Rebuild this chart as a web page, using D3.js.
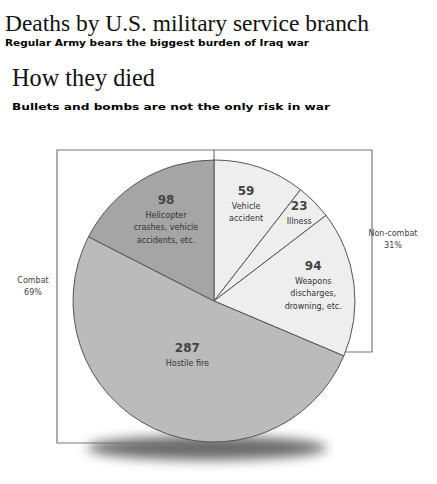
<!DOCTYPE html>
<html><head><meta charset="utf-8">
<script src="https://cdn.jsdelivr.net/npm/d3@7"></script>
<style>body{margin:0;background:#fff}svg{display:block}</style>
</head><body>
<script>
const categories = ["Vehicle accident", "Illness", "Weapons discharges, drowning, etc.", "Hostile fire", "Helicopter crashes, vehicle accidents, etc."];
const values = [59, 23, 94, 287, 98];
const labelLines = [["Vehicle", "accident"], ["Illness"], ["Weapons", "discharges,", "drowning, etc."], ["Hostile fire"], ["Helicopter", "crashes, vehicle", "accidents, etc."]];
const groups = ["Non-combat", "Combat"];
const groupPercents = ["31%", "69%"];

const W = 437, H = 484;
const svg = d3.select("body").append("svg").attr("width", W).attr("height", H);

const defs = svg.append("defs");
defs.append("filter").attr("id", "blur").attr("x", "-50%").attr("y", "-150%").attr("width", "200%").attr("height", "400%")
  .append("feGaussianBlur").attr("stdDeviation", 6);

// titles
svg.append("text").attr("x", 5).attr("y", 31).attr("font-family", "Liberation Serif, serif")
  .attr("font-size", 24).attr("textLength", 364).attr("lengthAdjust", "spacingAndGlyphs").attr("fill", "#111")
  .text("Deaths by U.S. military service branch");
svg.append("text").attr("x", 5).attr("y", 46).attr("font-family", "DejaVu Sans, sans-serif").attr("font-weight", "bold")
  .attr("font-size", 8).attr("textLength", 304).attr("lengthAdjust", "spacingAndGlyphs").attr("fill", "#000")
  .text("Regular Army bears the biggest burden of Iraq war");
svg.append("text").attr("x", 12).attr("y", 86).attr("font-family", "Liberation Serif, serif")
  .attr("font-size", 26).attr("textLength", 143).attr("lengthAdjust", "spacingAndGlyphs").attr("fill", "#111")
  .text("How they died");
svg.append("text").attr("x", 12).attr("y", 110).attr("font-family", "DejaVu Sans, sans-serif").attr("font-weight", "bold")
  .attr("font-size", 8).attr("textLength", 318).attr("lengthAdjust", "spacingAndGlyphs").attr("fill", "#000")
  .text("Bullets and bombs are not the only risk in war");

const cx = 214, cy = 301, R = 141;

// shadow
svg.append("ellipse").attr("cx", 207).attr("cy", 448).attr("rx", 120).attr("ry", 12)
  .attr("fill", "#6a6a6a").attr("filter", "url(#blur)");

// brackets
const br = svg.append("g").attr("fill", "none").attr("stroke", "#777").attr("stroke-width", 1.2);
br.append("path").attr("d", `M${cx},${cy - R} L${cx},150 L57,150 L57,443 L${cx},443`);
br.append("path").attr("d", `M${cx},150 L372,150 L372,352 L344,352`);

const pie = d3.pie().sort(null).value(d => d)(values);
const arc = d3.arc().innerRadius(0).outerRadius(R);
const fills = ["#eeeeee", "#eeeeee", "#eeeeee", "#bbbbbb", "#a5a5a5"];
const g = svg.append("g").attr("transform", `translate(${cx},${cy})`);
g.selectAll("path").data(pie).join("path").attr("d", arc)
  .attr("fill", (d, i) => fills[i]).attr("stroke", "#555").attr("stroke-width", 1);

const labelR = [99, 120, 100, 63, 92];
pie.forEach((d, i) => {
  const a = (d.startAngle + d.endAngle) / 2;
  const x = Math.sin(a) * labelR[i], y = -Math.cos(a) * labelR[i];
  const lines = labelLines[i];
  const t = g.append("text").attr("text-anchor", "middle").attr("fill", "#333")
    .attr("font-family", "DejaVu Sans, sans-serif");
  const top = y - (lines.length * 12.5) / 2;
  t.append("tspan").attr("x", x).attr("y", top).attr("font-size", 12).attr("font-weight", "bold").attr("fill", "#444").text(values[i]);
  lines.forEach((l, j) => t.append("tspan").attr("x", x).attr("y", top + 14 + j * 12.5).attr("font-size", 8).text(l));
});

// group labels
const gl = [[393, 236], [33, 283]];
groups.forEach((name, i) => {
  const t = svg.append("text").attr("text-anchor", "middle").attr("fill", "#444")
    .attr("font-family", "DejaVu Sans, sans-serif").attr("font-size", 8);
  t.append("tspan").attr("x", gl[i][0]).attr("y", gl[i][1]).text(name);
  t.append("tspan").attr("x", gl[i][0]).attr("y", gl[i][1] + 12).text(groupPercents[i]);
});
</script>
</body></html>
